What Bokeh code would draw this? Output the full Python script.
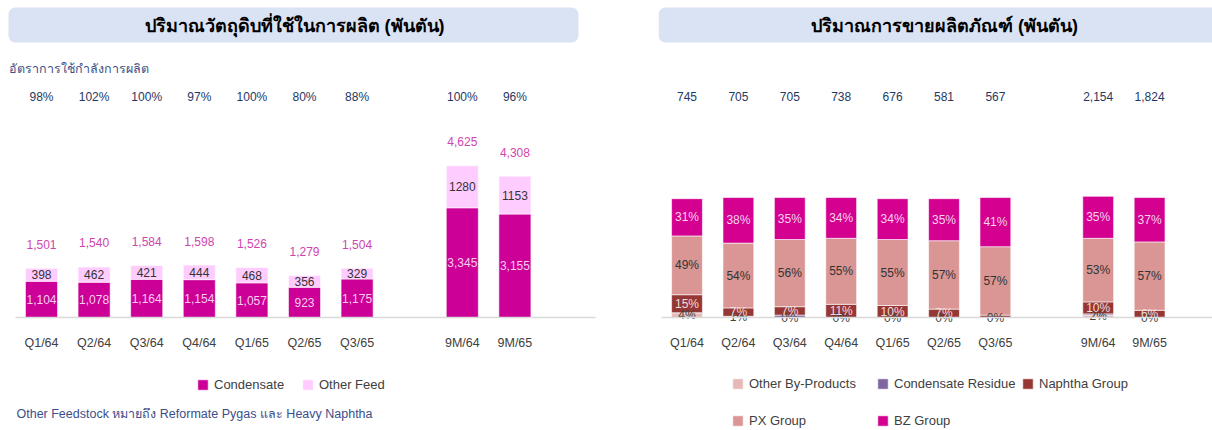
from bokeh.plotting import figure
from bokeh.models import ColumnDataSource, Range1d, BoxAnnotation, Legend, LegendItem
from bokeh.layouts import row
from bokeh.core.properties import value
from bokeh.embed import file_html
from bokeh.resources import INLINE

# ---------------- data ----------------
left_title = "ปริมาณวัตถุดิบที่ใช้ในการผลิต (พันตัน)"
right_title = "ปริมาณการขายผลิตภัณฑ์ (พันตัน)"
util_title = "อัตราการใช้กำลังการผลิต"
footnote = "Other Feedstock หมายถึง Reformate Pygas และ Heavy Naphtha"

periods = ["Q1/64", "Q2/64", "Q3/64", "Q4/64", "Q1/65", "Q2/65", "Q3/65", "9M/64", "9M/65"]
utilization = [98, 102, 100, 97, 100, 80, 88, 100, 96]
condensate = [1104, 1078, 1164, 1154, 1057, 923, 1175, 3345, 3155]
other_feed = [398, 462, 421, 444, 468, 356, 329, 1280, 1153]
feed_total = [1501, 1540, 1584, 1598, 1526, 1279, 1504, 4625, 4308]
feed_series = ["Condensate", "Other Feed"]

sales_total = [745, 705, 705, 738, 676, 581, 567, 2154, 1824]
other_byproducts = [4, 1, 0, 0, 0, 0, 0, 2, 0]
condensate_residue = [0, 0, 2, 0, 0, 0, 0, 1, 0]
naphtha_group = [15, 7, 7, 11, 10, 7, 2, 10, 6]
px_group = [49, 54, 56, 55, 55, 57, 57, 53, 57]
bz_group = [31, 38, 35, 34, 34, 35, 41, 35, 37]
sales_series = ["Other By-Products", "Condensate Residue", "Naphtha Group", "PX Group", "BZ Group"]

# ---------------- styling ----------------
FONT = "Liberation Sans"
H = 430
N_QUARTERS = 7
pos = [i if i < N_QUARTERS else i + 1 for i in range(len(periods))]


def txt(p, xs, ys, texts, size="12px", color="#404040", align="center", bold=False, y_offset=0):
    src = ColumnDataSource(dict(x=list(xs), y=list(ys), t=list(texts)))
    p.text(x="x", y="y", text="t", source=src, text_font=value(FONT),
           text_font_size=value(size), text_color=color, text_align=align,
           text_baseline="middle", text_font_style="bold" if bold else "normal",
           y_offset=y_offset)


def add_legend(p, label, renderer, vx, vy):
    lg = Legend(items=[LegendItem(label=label, renderers=[renderer])], location=(vx, vy),
                orientation="horizontal", padding=0, margin=0, spacing=0,
                border_line_color=None, background_fill_alpha=0,
                glyph_width=13, glyph_height=13, label_height=13, label_standoff=5,
                label_text_font=FONT, label_text_font_size="13px", label_text_color="#404040")
    p.add_layout(lg)


def make_fig(width, xr, yr):
    p = figure(width=width, height=H, x_range=xr, y_range=yr, output_backend="svg",
               toolbar_location=None, x_axis_location=None, y_axis_location=None,
               min_border=0, outline_line_color=None, tools="")
    p.grid.visible = False
    return p


# ================= LEFT CHART =================
L_LEFT, L_W = 0, 658
def lx(px): return (px - 41.0) / 52.6
def ly(py): return (317.0 - py) / 0.0328

p1 = make_fig(L_W, Range1d(lx(L_LEFT), lx(L_LEFT + L_W)), Range1d(ly(H), ly(0)))

p1.add_layout(BoxAnnotation(left=lx(8), right=lx(578), top=ly(7), bottom=ly(42),
                            fill_color="#DAE3F3", fill_alpha=1.0, line_color=None,
                            border_radius=7, level="underlay"))
txt(p1, [lx(294)], [ly(25)], [left_title], size="18px", color="#000000", bold=True)
txt(p1, [lx(8)], [ly(68)], [util_title], size="12.5px", color="#3E4F86", align="left")
txt(p1, pos, [ly(96)] * len(pos), [f"{u}%" for u in utilization], color="#1F3864")

src1 = ColumnDataSource(dict(x=pos, **{feed_series[0]: condensate, feed_series[1]: other_feed}))
rs1 = p1.vbar_stack(feed_series, x="x", width=0.61, source=src1,
                    fill_color=["#CC0096", "#FFCCFF"], line_color="white", line_width=0.6)

txt(p1, pos, [c / 2 for c in condensate], [f"{c:,}" for c in condensate], color="#F8CDF0")
txt(p1, pos, [c + o / 2 for c, o in zip(condensate, other_feed)], [str(o) for o in other_feed], color="#333333")
txt(p1, pos, feed_total, [f"{t:,}" for t in feed_total], color="#CF45AE", y_offset=-24)

p1.segment(x0=[lx(15)], y0=[0], x1=[lx(595)], y1=[0], line_color="#D9D9D9", line_width=1.5)
txt(p1, pos, [ly(342)] * len(pos), periods, size="12.5px", color="#404040")

add_legend(p1, feed_series[0], rs1[0], 196 - L_LEFT, H - 392)
add_legend(p1, feed_series[1], rs1[1], 301 - L_LEFT, H - 392)
txt(p1, [lx(16)], [ly(413)], [footnote], size="12.5px", color="#3B4E8C", align="left")

# ================= RIGHT CHART =================
R_LEFT, R_W = 658, 554
def rx(px): return (px - 686.5) / 51.4
def ry(py): return (317.0 - py) / 1.2

p2 = make_fig(R_W, Range1d(rx(R_LEFT), rx(R_LEFT + R_W)), Range1d(ry(H), ry(0)))

p2.add_layout(BoxAnnotation(left=rx(658), right=rx(1228), top=ry(7), bottom=ry(42),
                            fill_color="#DAE3F3", fill_alpha=1.0, line_color=None,
                            border_radius=7, level="underlay"))
txt(p2, [rx(944)], [ry(25)], [right_title], size="18px", color="#000000", bold=True)
txt(p2, pos, [ry(96)] * len(pos), [f"{t:,}" for t in sales_total], color="#1F3864")

sales_values = [other_byproducts, condensate_residue, naphtha_group, px_group, bz_group]
src2 = ColumnDataSource(dict(x=pos, **{n: v for n, v in zip(sales_series, sales_values)}))
rs2 = p2.vbar_stack(sales_series, x="x", width=0.60, source=src2,
                    fill_color=["#E6B9B8", "#8064A2", "#953735", "#D99694", "#D4008F"],
                    line_color="white", line_width=0.6)

label_colors = {"Other By-Products": "#404040", "Naphtha Group": "#F2DCDB",
                "PX Group": "#333333", "BZ Group": "#F8D3EE"}
base = [0] * len(pos)
for name, vals in zip(sales_series, sales_values):
    mids = [b + v / 2 for b, v in zip(base, vals)]
    if name in label_colors:
        keep = [i for i, v in enumerate(vals) if name != "Naphtha Group" or v >= 5]
        txt(p2, [pos[i] for i in keep], [mids[i] for i in keep],
            [f"{vals[i]}%" for i in keep], color=label_colors[name])
    base = [b + v for b, v in zip(base, vals)]

p2.segment(x0=[rx(661)], y0=[0], x1=[rx(1212)], y1=[0], line_color="#D9D9D9", line_width=1.5)
txt(p2, pos, [ry(342)] * len(pos), periods, size="12.5px", color="#404040")

leg_x = [731, 876, 1021, 731, 876]
leg_bottom = [391, 391, 391, 428, 428]
for name, r, lxp, lbp in zip(sales_series, rs2, leg_x, leg_bottom):
    add_legend(p2, name, r, lxp - R_LEFT, H - lbp)

layout = row(p1, p2, spacing=0)
open("out.html", "w").write(file_html(layout, INLINE))
